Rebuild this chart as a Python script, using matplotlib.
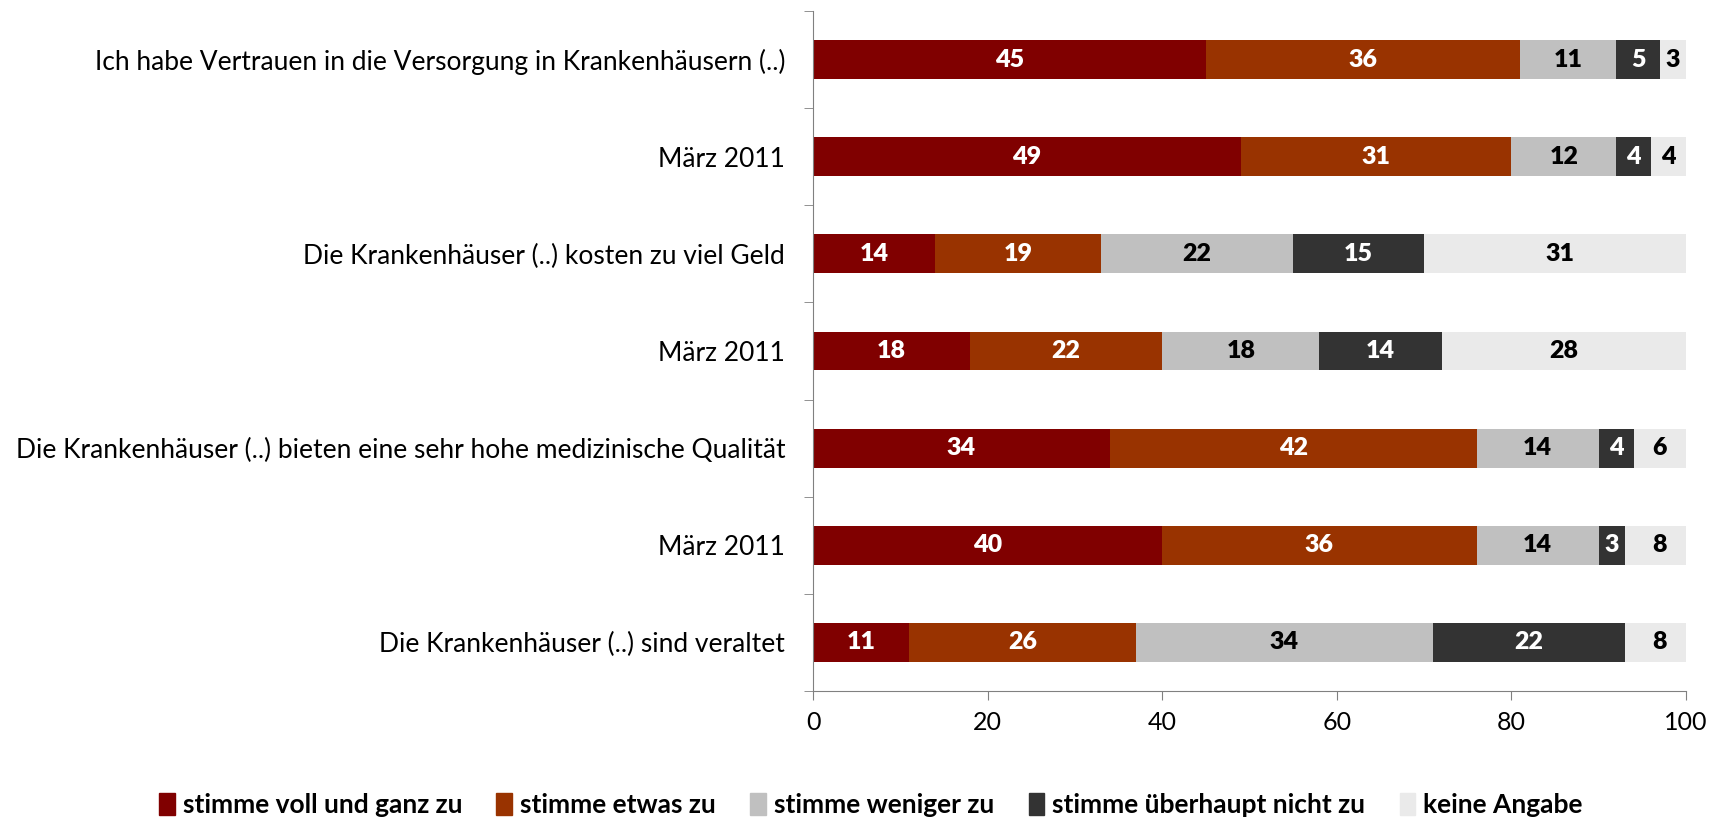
import numpy as np
import matplotlib
matplotlib.use('Agg')
import matplotlib.pyplot as plt
from matplotlib.patches import Patch

plt.rcParams['font.family'] = ['Lato', 'DejaVu Sans']

categories = ['Ich habe Vertrauen in die Versorgung in Krankenhäusern (..)',
              'März 2011',
              'Die Krankenhäuser (..) kosten zu viel Geld',
              'März 2011',
              'Die Krankenhäuser (..) bieten eine sehr hohe medizinische Qualität',
              'März 2011',
              'Die Krankenhäuser (..) sind veraltet']
series_names = ['stimme voll und ganz zu', 'stimme etwas zu', 'stimme weniger zu',
                'stimme überhaupt nicht zu', 'keine Angabe']
voll = [45, 49, 14, 18, 34, 40, 11]
etwas = [36, 31, 19, 22, 42, 36, 26]
weniger = [11, 12, 22, 18, 14, 14, 34]
nicht = [5, 4, 15, 14, 4, 3, 22]
keine = [3, 4, 31, 28, 6, 8, 8]
xticks = [0, 20, 40, 60, 80, 100]

colors = ['#800000', '#993300', '#C0C0C0', '#333333', '#EAEAEA']
txt_colors = ['white', 'white', 'black', 'white', 'black']

fig = plt.figure(figsize=(17.21, 8.21), dpi=100)
ax = fig.add_axes([0.4724, 0.1583, 0.5073, 0.8283])

y = np.arange(len(categories))
left = np.zeros(len(categories))
for vals, col, tc, name in zip([voll, etwas, weniger, nicht, keine], colors, txt_colors, series_names):
    vals = np.array(vals)
    ax.barh(y, vals, left=left, height=0.4, color=col, label=name)
    for yi, l, v in zip(y, left, vals):
        ax.text(l + v / 2, yi, str(v), ha='center', va='center', color=tc,
                fontsize=18, fontweight='heavy')
    left = left + vals

ax.set_xlim(0, 100)
ax.set_ylim(len(categories) - 0.5, -0.5)
ax.set_yticks(y)
ax.set_yticklabels(categories, fontsize=19)
ax.set_yticks(np.arange(-0.5, len(categories)), minor=True)
ax.tick_params(axis='y', which='major', length=0, pad=20)
ax.tick_params(axis='y', which='minor', length=6.5, color='#808080', direction='out')
ax.set_xticks(xticks)
ax.set_xticklabels([str(t) for t in xticks], fontsize=18)
ax.tick_params(axis='x', length=6.5, color='#808080', direction='out', pad=8)
for s in ['top', 'right']:
    ax.spines[s].set_visible(False)
ax.spines['left'].set_color('#808080')
ax.spines['bottom'].set_color('#808080')

handles = [Patch(color=c) for c in colors]
fig.legend(handles, series_names, loc='center', bbox_to_anchor=(0.506, 0.019), ncol=5,
           frameon=False, prop={'size': 19, 'weight': 'bold'},
           handlelength=0.6, handleheight=0.9, handletextpad=0.3, columnspacing=1.3)

fig.savefig('out.png', dpi=100)
